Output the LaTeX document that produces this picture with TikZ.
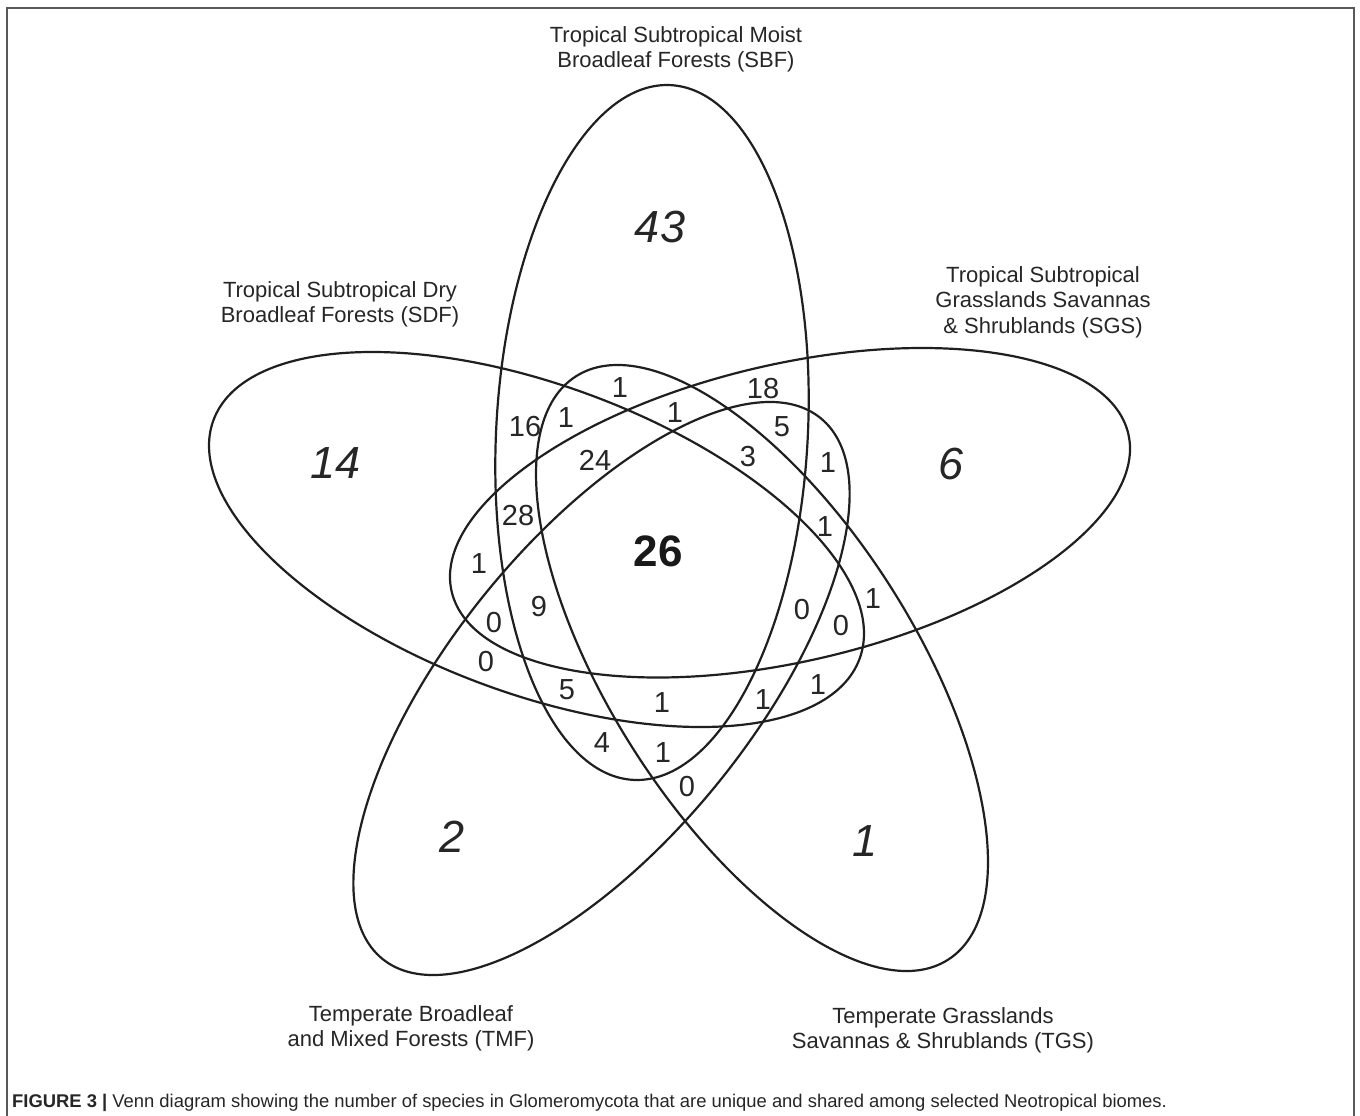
\documentclass[tikz,border=0pt]{standalone}
\usepackage{fontspec}
\setmainfont{Liberation Sans}
\begin{document}
\begin{tikzpicture}[x=1pt,y=-1pt,
  venn/.style={line width=2.2pt, draw=black!88},
  frameline/.style={line width=2pt, draw=black!65},
  num/.style={font=\fontsize{29}{33}\selectfont, inner sep=0pt, text=black!85},
  bignum/.style={font=\fontsize{45}{50}\selectfont\itshape, inner sep=0pt, text=black!85},
  centre/.style={font=\fontsize{44}{50}\selectfont\bfseries, inner sep=0pt, text=black!90},
  setlab/.style={font=\fontsize{22}{25.8}\selectfont, align=center, inner sep=0pt, anchor=north, text=black!85},
  caption/.style={font=\fontsize{18.4}{22}\selectfont, inner sep=0pt, anchor=base west, text=black!85}]
\useasboundingbox (0,0) rectangle (1360,1116);
\fill[white] (0,0) rectangle (1360,1116);
\draw[frameline] (7,1117) -- (7,8) -- (1354,8) -- (1354,1117);

% the five ellipses
\draw[venn, rotate around={86.91:(652,432.5)}] (652,432.5) ellipse [x radius=347.9, y radius=155.8];   % SBF
\draw[venn, rotate around={-20.27:(536.5,539.5)}] (536.5,539.5) ellipse [x radius=344.4, y radius=154.2]; % SDF
\draw[venn, rotate around={13.12:(790,512.75)}] (790,512.75) ellipse [x radius=347.4, y radius=148.5];  % SGS
\draw[venn, rotate around={51:(601.5,688.5)}] (601.5,688.5) ellipse [x radius=348, y radius=150];       % TMF
\draw[venn, rotate around={-57.47:(762,668)}] (762,668) ellipse [x radius=346, y radius=152.1];         % TGS

% set labels
\node[setlab] (lSBF) at (676,26) {Tropical Subtropical Moist\\Broadleaf Forests (SBF)};
\node[setlab] (lSDF) at (340,281) {Tropical Subtropical Dry\\Broadleaf Forests (SDF)};
\node[setlab] (lSGS) at (1043,266) {Tropical Subtropical\\Grasslands Savannas\\\& Shrublands (SGS)};
\node[setlab] (lTMF) at (411,1005) {Temperate Broadleaf\\and Mixed Forests (TMF)};
\node[setlab] (lTGS) at (943,1007) {Temperate Grasslands\\Savannas \& Shrublands (TGS)};

% unique counts
\node[bignum] (u43) at (660,227) {43};
\node[bignum] (u14) at (336,463) {14};
\node[bignum] (u6) at (951,464) {6};
\node[bignum] (u2) at (452,837) {2};
\node[bignum] (u1) at (865,841) {1};
\node[centre] (c26) at (658,551) {26};

% shared counts
\node[num] (a1) at (620,388) {1};
\node[num] (a2) at (763,389) {18};
\node[num] (a3) at (525,427) {16};
\node[num] (a4) at (566,418) {1};
\node[num] (a5) at (675,413) {1};
\node[num] (a6) at (782,427) {5};
\node[num] (a7) at (595,460) {24};
\node[num] (a8) at (748,457) {3};
\node[num] (a9) at (828,463) {1};
\node[num] (a10) at (518,516) {28};
\node[num] (a11) at (825,527) {1};
\node[num] (a12) at (479,564) {1};
\node[num] (a13) at (539,607) {9};
\node[num] (a14) at (802,610) {0};
\node[num] (a15) at (873,599) {1};
\node[num] (a16) at (494,623) {0};
\node[num] (a17) at (841,626) {0};
\node[num] (a18) at (486,662) {0};
\node[num] (a19) at (567,690) {5};
\node[num] (a20) at (662,703) {1};
\node[num] (a21) at (763,700) {1};
\node[num] (a22) at (818,685) {1};
\node[num] (a23) at (602,743) {4};
\node[num] (a24) at (663,753) {1};
\node[num] (a25) at (687,787) {0};

% caption
\node[caption] (cap) at (12,1107) {\textbf{FIGURE 3 |} Venn diagram showing the number of species in Glomeromycota that are unique and shared among selected Neotropical biomes.};
\end{tikzpicture}
\end{document}
